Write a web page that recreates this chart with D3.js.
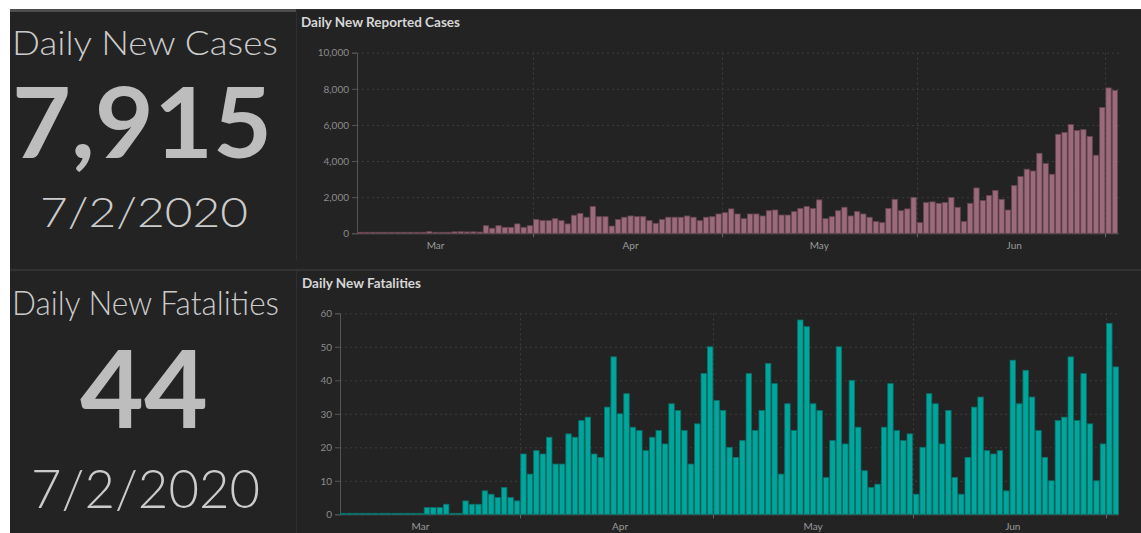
<!DOCTYPE html>
<html>
<head>
<meta charset="utf-8">
<script src="https://cdn.jsdelivr.net/npm/d3@7"></script>
<style>
  body { margin: 0; background: #fff; }
  svg { display: block; font-family: Lato, "Noto Sans", sans-serif; }
</style>
</head>
<body>
<svg id="dash"></svg>
<script>
// first day shown on both charts, one value per day after that
var firstDay = new Date(2020, 2, 4);

var monthLabels = ["Mar", "Apr", "May", "Jun"];
var monthStarts = ["2020-04-01", "2020-05-01", "2020-06-01", "2020-07-01"];

var caseTicks = [0, 2000, 4000, 6000, 8000, 10000];
var deathTicks = [0, 10, 20, 30, 40, 50, 60];

var dailyCases = [
  // Mar 4 - 31
  5, 3, 8, 10, 12, 6, 15, 10, 14, 20, 18, 90, 25, 20, 30, 80, 85, 75, 80, 70, 420, 280, 420, 330, 330, 520, 330, 420,
  // Apr
  760, 700, 700, 810, 700, 520, 1000, 1100, 890, 1480, 920, 920, 400, 760, 890, 960, 920, 920, 700, 550,
  760, 890, 890, 890, 960, 890, 700, 890, 920, 1070,
  // May
  1140, 1350, 1070, 810, 1070, 1070, 960, 1250, 1290, 1010, 1010, 1200, 1380, 1480, 1380, 1850, 810, 920, 1250, 1440,
  960, 1200, 1070, 890, 650, 590, 1380, 1880, 1250, 1350, 1990,
  // Jun
  590, 1700, 1740, 1660, 1700, 1980, 1440, 650, 1660, 2510, 1810, 2090, 2370, 1880, 1290, 2640, 3140, 3550, 3450, 4430,
  3860, 3270, 5480, 5580, 6020, 5690, 5740, 5360, 4320, 6960,
  // Jul
  8050, 7915
];

var dailyDeaths = [
  // Mar 4 - 31
  0, 0, 0, 0, 0, 0, 0, 0, 0, 0, 0, 0, 0, 2, 2, 2, 3, 0, 0, 4, 3, 3, 7, 6, 5, 8, 5, 4,
  // Apr
  18, 12, 19, 18, 23, 15, 15, 24, 23, 28, 29, 18, 17, 32, 47, 30, 36, 26, 25, 19,
  23, 25, 21, 33, 31, 25, 15, 27, 42, 50,
  // May
  34, 31, 20, 17, 22, 42, 25, 31, 45, 39, 12, 33, 25, 58, 56, 33, 31, 11, 22, 50,
  21, 40, 26, 13, 8, 9, 26, 39, 25, 22, 24,
  // Jun
  6, 20, 36, 33, 21, 31, 11, 6, 17, 32, 35, 19, 18, 19, 7, 46, 33, 43, 35, 25,
  17, 10, 28, 29, 47, 28, 42, 27, 10, 21,
  // Jul
  57, 44
];

var latestDate = "7/2/2020";

var W = 1141, H = 533;
var svg = d3.select("#dash").attr("width", W).attr("height", H);

// page + panels
svg.append("rect").attr("width", W).attr("height", H).attr("fill", "#fff");
svg.append("rect").attr("x", 10).attr("y", 9).attr("width", W - 10).attr("height", H - 9).attr("fill", "#232323");
svg.append("rect").attr("x", 10).attr("y", 9).attr("width", 286).attr("height", 3).attr("fill", "#4e4e4e");
svg.append("rect").attr("x", 296).attr("y", 9).attr("width", W - 296).attr("height", 1).attr("fill", "#2e2e2e");
svg.append("line").attr("x1", 10).attr("x2", W).attr("y1", 270).attr("y2", 270)
   .attr("stroke", "#3a3a3a").attr("stroke-width", 1.5);
svg.append("line").attr("x1", 296.5).attr("x2", 296.5).attr("y1", 12).attr("y2", 260)
   .attr("stroke", "#2f2f2f");
svg.append("line").attr("x1", 296.5).attr("x2", 296.5).attr("y1", 271).attr("y2", H)
   .attr("stroke", "#2f2f2f");

var fmt = d3.format(",");

// big number cards on the left; widths
var drawIndicator = function(title, value, rows) {
  var g = svg.append("g").attr("text-anchor", "middle").attr("fill", "#cbcbcb");
  g.append("text").text(title)
   .attr("x", rows[0].x).attr("y", rows[0].y)
   .attr("font-size", rows[0].size).attr("font-weight", 300)
   .attr("textLength", rows[0].w).attr("lengthAdjust", "spacingAndGlyphs");
  g.append("text").text(fmt(value))
   .attr("x", rows[1].x).attr("y", rows[1].y)
   .attr("font-size", rows[1].size).attr("font-weight", 700).attr("fill", "#bdbdbd")
   .attr("textLength", rows[1].w).attr("lengthAdjust", "spacingAndGlyphs");
  g.append("text").text(latestDate)
   .attr("x", rows[2].x).attr("y", rows[2].y)
   .attr("font-size", rows[2].size).attr("font-weight", 300)
   .attr("textLength", rows[2].w).attr("lengthAdjust", "spacingAndGlyphs");
}

drawIndicator("Daily New Cases", dailyCases[dailyCases.length - 1], [
  {x: 145, y: 55, size: 33, w: 266},
  {x: 142, y: 158, size: 97, w: 260},
  {x: 144, y: 227, size: 42, w: 208}
]);
drawIndicator("Daily New Fatalities", dailyDeaths[dailyDeaths.length - 1], [
  {x: 145.5, y: 315, size: 33, w: 267},
  {x: 144, y: 428, size: 108, w: 128},
  {x: 145.5, y: 508, size: 53, w: 229}
]);

var drawBars = function(opt) {
  var values = opt.values;
  var dates = values.map(function(d, i) { return d3.timeDay.offset(firstDay, i); });
  var lastDay = d3.timeDay.offset(firstDay, values.length);

  var x = d3.scaleTime().domain([firstDay, lastDay]).range([opt.left, opt.right]);
  var y = d3.scaleLinear().domain([0, d3.max(opt.ticks)]).range([opt.bottom, opt.top]);
  var g = svg.append("g");

  g.append("text").text(opt.title)
   .attr("x", opt.titleX).attr("y", opt.titleY)
   .attr("font-size", 13).attr("font-weight", 700).attr("fill", "#d6d6d6")
   .attr("textLength", opt.titleW).attr("lengthAdjust", "spacingAndGlyphs");

  // dotted grid
  g.selectAll(".hgrid")
   .data(opt.ticks.slice(1))
   .enter()
   .append("line")
   .attr("x1", opt.left).attr("x2", opt.gridRight)
   .attr("y1", function(d) { return y(d) + 0.5; })
   .attr("y2", function(d) { return y(d) + 0.5; })
   .attr("stroke", "#3d3d3d").attr("stroke-dasharray", "2,3");

  var starts = monthStarts.map(function(s) { return d3.timeParse("%Y-%m-%d")(s); });
  g.selectAll(".vgrid")
   .data(starts)
   .enter()
   .append("line")
   .attr("x1", function(d) { return Math.round(x(d)) + 0.5; })
   .attr("x2", function(d) { return Math.round(x(d)) + 0.5; })
   .attr("y1", opt.top).attr("y2", opt.bottom)
   .attr("stroke", "#3d3d3d").attr("stroke-dasharray", "2,3");

  // axes
  var yAxis = g.append("g").attr("transform", "translate(" + opt.left + ",0)")
    .call(d3.axisLeft(y).tickValues(opt.ticks).tickFormat(fmt).tickSize(5).tickPadding(3));
  yAxis.select(".domain").attr("stroke", "#555");
  yAxis.selectAll(".tick line").attr("stroke", "#555");
  yAxis.selectAll("text").attr("fill", "#8c8c8c").attr("font-size", 10).attr("font-family", "Lato, sans-serif");

  g.append("line")
   .attr("x1", opt.left).attr("x2", opt.gridRight)
   .attr("y1", opt.bottom + 0.5).attr("y2", opt.bottom + 0.5)
   .attr("stroke", "#555");

  g.selectAll(".mtick")
   .data(starts)
   .enter()
   .append("line")
   .attr("x1", function(d) { return Math.round(x(d)) + 0.5; })
   .attr("x2", function(d) { return Math.round(x(d)) + 0.5; })
   .attr("y1", opt.bottom).attr("y2", opt.bottom + 4)
   .attr("stroke", "#666");

  // bars on top of the baseline; zero days keep a 1px sliver like the original
  g.selectAll(".bar")
   .data(values)
   .enter()
   .append("rect")
   .attr("x", function(d, i) { return x(dates[i]) + 0.5; })
   .attr("y", function(d) { return Math.min(y(d), opt.bottom - 1); })
   .attr("width", function(d, i) { return x(d3.timeDay.offset(dates[i], 1)) - x(dates[i]) - 1; })
   .attr("height", function(d) { return Math.max(opt.bottom - y(d), 1); })
   .attr("fill", opt.fill)
   .attr("stroke", opt.stroke)
   .attr("stroke-width", 0.8);

  // month names sit mid-month
  g.selectAll(".mlabel")
   .data(monthLabels)
   .enter()
   .append("text")
   .text(function(d) { return d; })
   .attr("x", function(d, i) { return x(new Date(2020, 2 + i, 16, 12)); })
   .attr("y", opt.bottom + 16)
   .attr("text-anchor", "middle")
   .attr("font-size", 10)
   .attr("fill", "#9a9a9a");
}

drawBars({
  values: dailyCases, ticks: caseTicks,
  title: "Daily New Reported Cases", titleX: 301, titleY: 27, titleW: 159,
  left: 357, right: 1118, gridRight: 1119, top: 52.7, bottom: 233.3,
  fill: "#9b6a7b", stroke: "#6a4652"
});

drawBars({
  values: dailyDeaths, ticks: deathTicks,
  title: "Daily New Fatalities", titleX: 302, titleY: 288, titleW: 119,
  left: 340, right: 1119, gridRight: 1119, top: 313.3, bottom: 514.3,
  fill: "#00a59c", stroke: "#07726b"
});
</script>
</body>
</html>
